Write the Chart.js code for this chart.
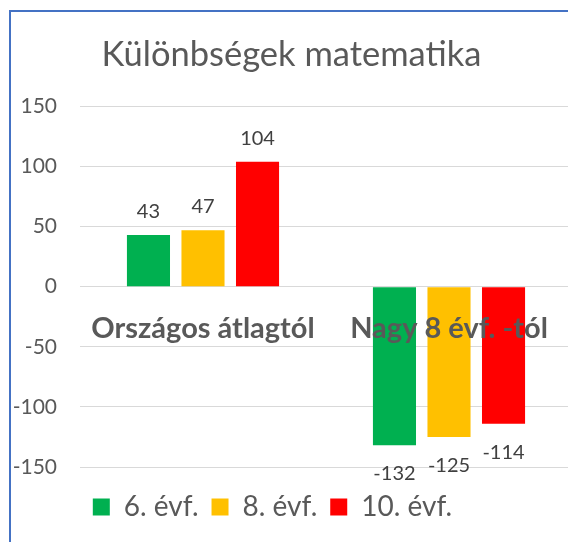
<!DOCTYPE html>
<html>
<head>
<meta charset="utf-8">
<script src="https://cdn.jsdelivr.net/npm/chart.js@4"></script>
<style>
  html, body { margin: 0; padding: 0; background: #fff; overflow: hidden; }
  #keret { position: absolute; left: 9px; top: 10px; width: 580px; height: 530px;
           border-left: 2px solid #4472C4; border-top: 2px solid #4472C4; }
  #keret canvas { display: block; }
</style>
</head>
<body>
<div id="keret">
  <canvas id="kulonbsegChart" width="580" height="530"></canvas>
</div>
<script>
// Adatok
var kategoriak = ['Országos átlagtól', 'Nagy 8 évf. -tól'];
var sorozatNevek = ['6. évf.', '8. évf.', '10. évf.'];
var evf6 = [43, -132];
var evf8 = [47, -125];
var evf10 = [104, -114];
var szinek = ['#00B050', '#FFC000', '#FF0000'];
var yMin = -150, yMax = 150, yLepes = 50;

var betu = 'Lato';
var szurke = '#595959';

// Értékek kiírása az oszlopok fölé / alá
var ertekCimkek = {
    id: 'ertekCimkek',
    afterDatasetsDraw: function(chart) {
        var ctx = chart.ctx;
        ctx.save();
        ctx.font = '20px ' + betu;
        ctx.fillStyle = '#404040';
        ctx.textAlign = 'center';
        ctx.textBaseline = 'alphabetic';
        chart.data.datasets.forEach(function(ds, i) {
            chart.getDatasetMeta(i).data.forEach(function(bar, j) {
                var v = ds.data[j];
                var y = v >= 0 ? bar.y - 17 : bar.y + 35;
                ctx.fillText(String(v), bar.x, y);
            });
        });
        ctx.restore();
    }
};

// Jelmagyarázat kicsit balra tolása (mint az Excelben)
var legendEltolas = {
    id: 'legendEltolas',
    afterLayout: function(chart) {
        if (chart.legend) chart.legend.right -= 38;
    }
};

var ctx = document.getElementById('kulonbsegChart').getContext('2d');
new Chart(ctx, {
    type: 'bar',
    data: {
        labels: kategoriak,
        datasets: [
            { label: sorozatNevek[0], data: evf6, backgroundColor: szinek[0], borderWidth: 0 },
            { label: sorozatNevek[1], data: evf8, backgroundColor: szinek[1], borderWidth: 0 },
            { label: sorozatNevek[2], data: evf10, backgroundColor: szinek[2], borderWidth: 0 }
        ]
    },
    options: {
        responsive: false,
        animation: false,
        devicePixelRatio: 1,
        layout: { padding: { left: 0, right: 19, top: 0, bottom: 11 } },
        datasets: {
            bar: { categoryPercentage: 0.665, barPercentage: 0.79 }
        },
        scales: {
            x: {
                position: { y: 0 },
                afterFit: function(s) { s.height = 0; },
                grid: { display: false, drawTicks: false },
                border: { display: false },
                ticks: {
                    z: 1,
                    color: szurke,
                    padding: 25,
                    font: { family: betu, size: 29, weight: 'bold' },
                    maxRotation: 0,
                    autoSkip: false
                }
            },
            y: {
                min: yMin,
                max: yMax,
                afterFit: function(s) { s.width = 69; },
                grid: { color: '#D9D9D9', lineWidth: 1, drawTicks: false },
                border: { display: false },
                ticks: {
                    stepSize: yLepes,
                    color: szurke,
                    padding: 23,
                    font: { family: betu, size: 21 }
                }
            }
        },
        plugins: {
            title: {
                display: true,
                text: 'Különbségek matematika',
                color: szurke,
                font: { family: betu, size: 34.5, weight: 'normal' },
                padding: { top: 22, bottom: 31 }
            },
            legend: {
                position: 'bottom',
                title: { display: true, text: ' ', font: { size: 10 }, padding: { top: 1, bottom: 0 } },
                labels: {
                    boxWidth: 17,
                    boxHeight: 17,
                    padding: 13,
                    color: szurke,
                    font: { family: betu, size: 28 }
                }
            },
            tooltip: { enabled: false }
        }
    },
    plugins: [ertekCimkek, legendEltolas]
});
</script>
</body>
</html>
